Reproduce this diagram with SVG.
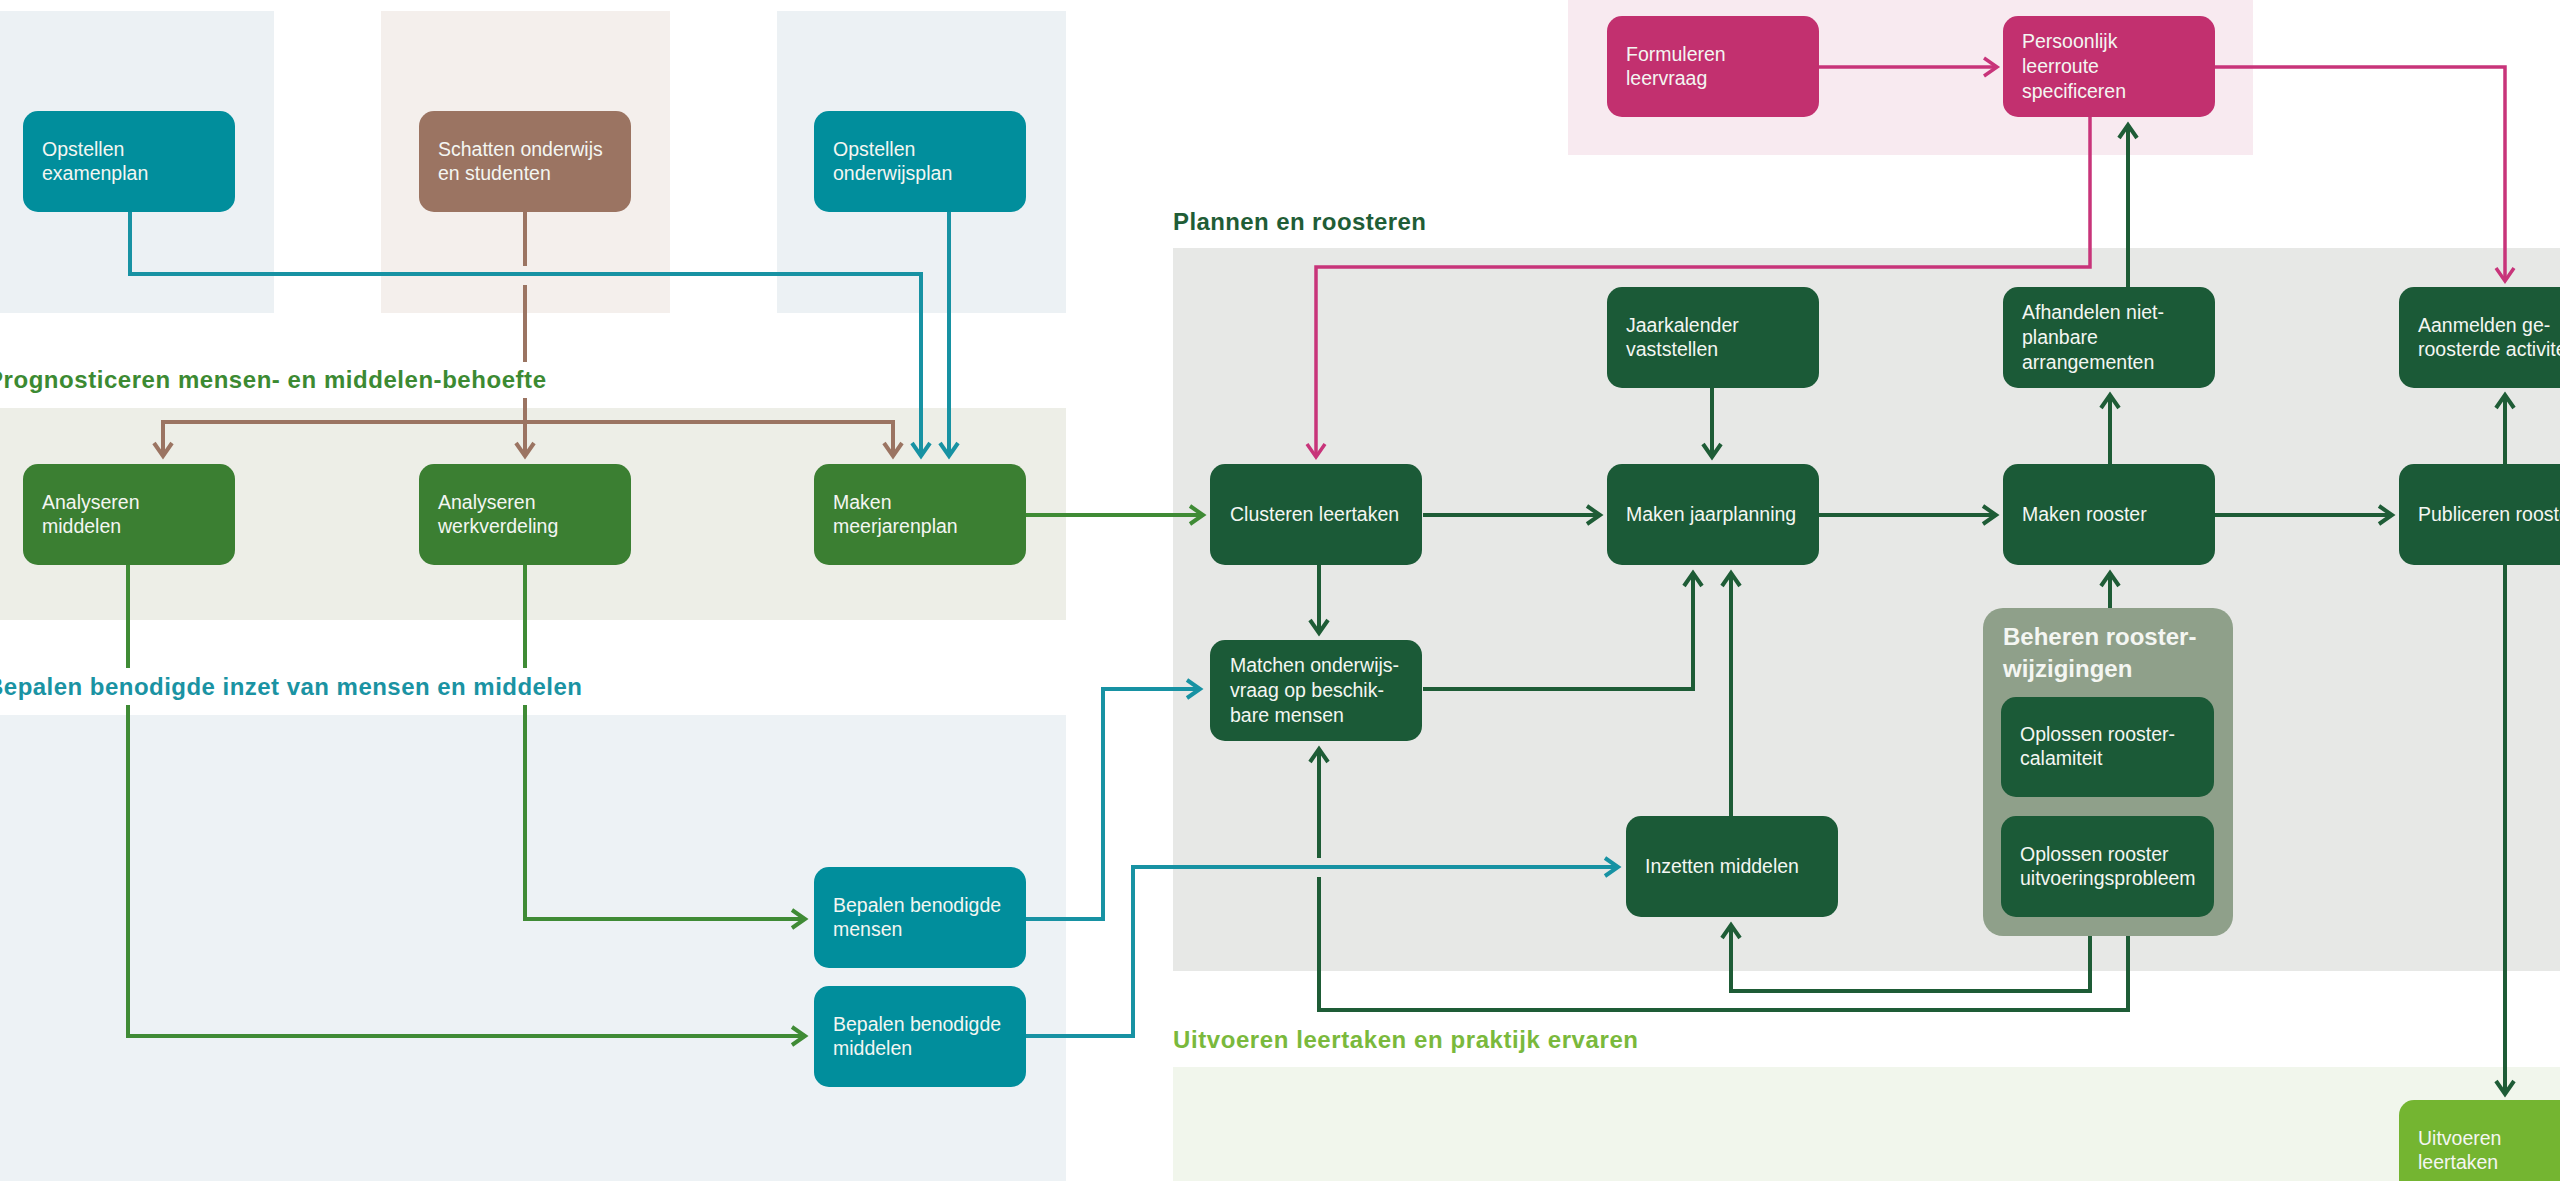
<svg xmlns="http://www.w3.org/2000/svg" width="2560" height="1181" viewBox="0 0 2560 1181">
<style>
.t{font-family:"Liberation Sans",Arial,sans-serif;font-size:19.5px;fill:#F4F6F2}
.h{font-family:"Liberation Sans",Arial,sans-serif;font-size:24px;font-weight:bold}
.teal{fill:#018E9C}.brown{fill:#9B7462}.green{fill:#3B7F32}.dk{fill:#1B5A37}.mag{fill:#C2306F}.lg{fill:#74B531}
.c{fill:none;stroke-width:4;stroke-linejoin:miter}
.ct{stroke:#1792A3}.cb{stroke:#9B7462}.cg{stroke:#3F8B35}.cd{stroke:#1E5C36}.cm{stroke:#C8347A;stroke-width:3.5}
</style>
<defs>
<marker id="at" viewBox="-18 -12 22 24" markerWidth="22" markerHeight="24" refX="0" refY="0" orient="auto" markerUnits="userSpaceOnUse"><path d="M-13,-9 L0,0 L-13,9" fill="none" stroke="#1792A3" stroke-width="4"/></marker>
<marker id="ab" viewBox="-18 -12 22 24" markerWidth="22" markerHeight="24" refX="0" refY="0" orient="auto" markerUnits="userSpaceOnUse"><path d="M-13,-9 L0,0 L-13,9" fill="none" stroke="#9B7462" stroke-width="4"/></marker>
<marker id="ag" viewBox="-18 -12 22 24" markerWidth="22" markerHeight="24" refX="0" refY="0" orient="auto" markerUnits="userSpaceOnUse"><path d="M-13,-9 L0,0 L-13,9" fill="none" stroke="#3F8B35" stroke-width="4"/></marker>
<marker id="ad" viewBox="-18 -12 22 24" markerWidth="22" markerHeight="24" refX="0" refY="0" orient="auto" markerUnits="userSpaceOnUse"><path d="M-13,-9 L0,0 L-13,9" fill="none" stroke="#1E5C36" stroke-width="4"/></marker>
<marker id="am" viewBox="-18 -12 22 24" markerWidth="22" markerHeight="24" refX="0" refY="0" orient="auto" markerUnits="userSpaceOnUse"><path d="M-13,-9 L0,0 L-13,9" fill="none" stroke="#C8347A" stroke-width="3.5"/></marker>
</defs>
<rect width="2560" height="1181" fill="#FFFFFF"/>
<g id="panels">
<rect x="0" y="11" width="274" height="302" fill="#ECF1F4"/>
<rect x="381" y="11" width="289" height="302" fill="#F4EFEC"/>
<rect x="777" y="11" width="289" height="302" fill="#ECF1F4"/>
<rect x="0" y="408" width="1066" height="212" fill="#EDEEE7"/>
<rect x="0" y="715" width="1066" height="466" fill="#EDF2F5"/>
<rect x="1568" y="0" width="685" height="155" fill="#F8EAF0"/>
<rect x="1173" y="248" width="1387" height="723" fill="#E7E8E6"/>
<rect x="1173" y="1067" width="1387" height="114" fill="#F1F6EC"/>
</g>
<g id="labels">
<text class="h" x="-13" y="388" fill="#3C8A32" textLength="559">Prognosticeren mensen- en middelen-behoefte</text>
<text class="h" x="-14" y="695" fill="#1A93A3" textLength="596">Bepalen benodigde inzet van mensen en middelen</text>
<text class="h" x="1173" y="230" fill="#1F5D36" textLength="253">Plannen en roosteren</text>
<text class="h" x="1173" y="1048" fill="#7AB93C" textLength="465">Uitvoeren leertaken en praktijk ervaren</text>
</g>
<g id="connectors">
<path class="c ct" d="M130,212 V274 H921 V456" marker-end="url(#at)"/>
<path class="c ct" d="M949,212 V456" marker-end="url(#at)"/>
<path class="c ct" d="M1026,919 H1103 V689 H1200" marker-end="url(#at)"/>
<path class="c ct" d="M1026,1036 H1133 V867 H1618" marker-end="url(#at)"/>
<path class="c cb" d="M525,212 V266 M525,285 V362"/>
<path class="c cb" d="M525,398 V456" marker-end="url(#ab)"/>
<path class="c cb" d="M527,422 H163 V456" marker-end="url(#ab)"/>
<path class="c cb" d="M523,422 H893 V456" marker-end="url(#ab)"/>
<path class="c cg" d="M128,565 V668 M525,565 V668"/>
<path class="c cg" d="M128,705 V1036 H805" marker-end="url(#ag)"/>
<path class="c cg" d="M525,705 V919 H805" marker-end="url(#ag)"/>
<path class="c cg" d="M1026,515 H1203" marker-end="url(#ag)"/>
<path class="c cd" d="M1423,515 H1600" marker-end="url(#ad)"/>
<path class="c cd" d="M1818,515 H1996" marker-end="url(#ad)"/>
<path class="c cd" d="M2214,515 H2392" marker-end="url(#ad)"/>
<path class="c cd" d="M1712,388 V457" marker-end="url(#ad)"/>
<path class="c cd" d="M2110,464 V395" marker-end="url(#ad)"/>
<path class="c cd" d="M2505,464 V395" marker-end="url(#ad)"/>
<path class="c cd" d="M1319,565 V633" marker-end="url(#ad)"/>
<path class="c cd" d="M1423,689 H1693 V573" marker-end="url(#ad)"/>
<path class="c cd" d="M1731,816 V573" marker-end="url(#ad)"/>
<path class="c cd" d="M2110,608 V573" marker-end="url(#ad)"/>
<path class="c cd" d="M2128,287 V125" marker-end="url(#ad)"/>
<path class="c cd" d="M2090,936 V991 H1731 V925" marker-end="url(#ad)"/>
<path class="c cd" d="M2128,936 V1010 H1319 V877"/>
<path class="c cd" d="M1319,858 V749" marker-end="url(#ad)"/>
<path class="c cd" d="M2505,565 V1094" marker-end="url(#ad)"/>
<path class="c cm" d="M1818,67 H1997" marker-end="url(#am)"/>
<path class="c cm" d="M2214,67 H2505 V281" marker-end="url(#am)"/>
<path class="c cm" d="M2090,117 V267 H1316 V457" marker-end="url(#am)"/>
</g>
<g id="n1"><rect class="teal" x="23" y="111" width="212" height="101" rx="15"/><text class="t" x="42" y="156">Opstellen</text><text class="t" x="42" y="180">examenplan</text></g>
<g id="n2"><rect class="brown" x="419" y="111" width="212" height="101" rx="15"/><text class="t" x="438" y="156">Schatten onderwijs</text><text class="t" x="438" y="180">en studenten</text></g>
<g id="n3"><rect class="teal" x="814" y="111" width="212" height="101" rx="15"/><text class="t" x="833" y="156">Opstellen</text><text class="t" x="833" y="180">onderwijsplan</text></g>
<g id="n4"><rect class="green" x="23" y="464" width="212" height="101" rx="15"/><text class="t" x="42" y="509">Analyseren</text><text class="t" x="42" y="533">middelen</text></g>
<g id="n5"><rect class="green" x="419" y="464" width="212" height="101" rx="15"/><text class="t" x="438" y="509">Analyseren</text><text class="t" x="438" y="533">werkverdeling</text></g>
<g id="n6"><rect class="green" x="814" y="464" width="212" height="101" rx="15"/><text class="t" x="833" y="509">Maken</text><text class="t" x="833" y="533">meerjarenplan</text></g>
<g id="n7"><rect class="teal" x="814" y="867" width="212" height="101" rx="15"/><text class="t" x="833" y="912">Bepalen benodigde</text><text class="t" x="833" y="936">mensen</text></g>
<g id="n8"><rect class="teal" x="814" y="986" width="212" height="101" rx="15"/><text class="t" x="833" y="1031">Bepalen benodigde</text><text class="t" x="833" y="1055">middelen</text></g>
<g id="n9"><rect class="mag" x="1607" y="16" width="212" height="101" rx="15"/><text class="t" x="1626" y="61">Formuleren</text><text class="t" x="1626" y="85">leervraag</text></g>
<g id="n10"><rect class="mag" x="2003" y="16" width="212" height="101" rx="15"/><text class="t" x="2022" y="48">Persoonlijk</text><text class="t" x="2022" y="73">leerroute</text><text class="t" x="2022" y="98">specificeren</text></g>
<g id="n11"><rect class="dk" x="1607" y="287" width="212" height="101" rx="15"/><text class="t" x="1626" y="332">Jaarkalender</text><text class="t" x="1626" y="356">vaststellen</text></g>
<g id="n12"><rect class="dk" x="2003" y="287" width="212" height="101" rx="15"/><text class="t" x="2022" y="319">Afhandelen niet-</text><text class="t" x="2022" y="344">planbare</text><text class="t" x="2022" y="369">arrangementen</text></g>
<g id="n13"><rect class="dk" x="2399" y="287" width="212" height="101" rx="15"/><text class="t" x="2418" y="332">Aanmelden ge-</text><text class="t" x="2418" y="356">roosterde activiteiten</text></g>
<g id="n14"><rect class="dk" x="1210" y="464" width="212" height="101" rx="15"/><text class="t" x="1230" y="521">Clusteren leertaken</text></g>
<g id="n15"><rect class="dk" x="1607" y="464" width="212" height="101" rx="15"/><text class="t" x="1626" y="521">Maken jaarplanning</text></g>
<g id="n16"><rect class="dk" x="2003" y="464" width="212" height="101" rx="15"/><text class="t" x="2022" y="521">Maken rooster</text></g>
<g id="n17"><rect class="dk" x="2399" y="464" width="212" height="101" rx="15"/><text class="t" x="2418" y="521">Publiceren rooster</text></g>
<g id="n18"><rect class="dk" x="1210" y="640" width="212" height="101" rx="15"/><text class="t" x="1230" y="672">Matchen onderwijs-</text><text class="t" x="1230" y="697">vraag op beschik-</text><text class="t" x="1230" y="722">bare mensen</text></g>
<g id="n19"><rect class="dk" x="1626" y="816" width="212" height="101" rx="15"/><text class="t" x="1645" y="873">Inzetten middelen</text></g>
<g id="g1"><rect x="1983" y="608" width="250" height="328" rx="20" fill="#8FA08A"/><text class="h" x="2003" y="645" fill="#F4F6F2">Beheren rooster-</text><text class="h" x="2003" y="677" fill="#F4F6F2">wijzigingen</text></g>
<g id="n20"><rect class="dk" x="2001" y="697" width="213" height="100" rx="15"/><text class="t" x="2020" y="741">Oplossen rooster-</text><text class="t" x="2020" y="765">calamiteit</text></g>
<g id="n21"><rect class="dk" x="2001" y="816" width="213" height="101" rx="15"/><text class="t" x="2020" y="861">Oplossen rooster</text><text class="t" x="2020" y="885">uitvoeringsprobleem</text></g>
<g id="n22"><rect class="lg" x="2399" y="1100" width="212" height="101" rx="15"/><text class="t" x="2418" y="1145">Uitvoeren</text><text class="t" x="2418" y="1169">leertaken</text></g>
</svg>
